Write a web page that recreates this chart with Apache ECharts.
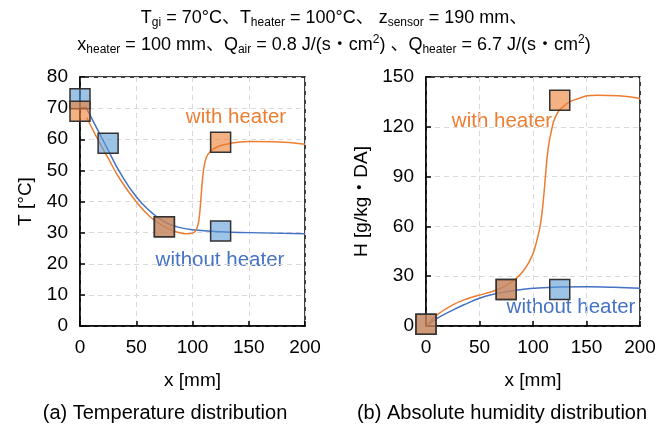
<!DOCTYPE html>
<html>
<head>
<meta charset="utf-8">
<script src="https://cdn.jsdelivr.net/npm/echarts@6/dist/echarts.min.js"></script>
<style>
  html, body { margin: 0; padding: 0; background: #fff; }
  #chart { width: 669px; height: 427px; }
</style>
</head>
<body>
<div id="chart"></div>
<script>
// measured points (squares)
const tempNoHeater = [[0, 73], [25, 58.7], [75, 31.9], [125, 30.5]];
const tempHeater = [[0, 69], [75, 31.9], [125, 59]];
const humNoHeater = [[0, 1], [75, 22], [125, 22]];
const humHeater = [[0, 1], [75, 22], [125, 136]];

// simulated curves
const tempNoHeaterCurve = [[5, 70.5], [15, 63.5], [25, 56.5], [36, 49], [50, 41.5], [62, 37], [75, 33.5],
  [89, 31.6], [105, 30.8], [125, 30.3], [150, 30.0], [200, 29.6]];
const tempHeaterCurve = [[6, 67], [15, 60.5], [25, 53.9], [36, 46.9], [50, 39.9], [62, 35.2], [75, 31.9],
  [86, 30.2], [95, 29.6], [101, 30], [104, 31.5], [106, 35], [107.5, 41], [109, 47.5], [111, 52.5], [114, 55.3],
  [120, 57.2], [130, 58.4], [150, 59.3], [172, 59.2], [200, 58.4]];
const humNoHeaterCurve = [[1, 0.5], [10, 4.5], [25, 9.6], [38, 13.5], [50, 16.7], [62, 19], [75, 20.7],
  [88, 21.9], [100, 22.7], [125, 23.5], [150, 23.7], [175, 23.3], [200, 22.7]];
const humHeaterCurve = [[1, 0.5], [10, 6.5], [25, 12.7], [40, 16.7], [55, 19.5], [65, 21.5], [75, 24.5],
  [85, 29], [93, 35], [99, 42], [103, 50], [106, 58], [108, 66], [110, 78], [112, 93], [114, 106], [117, 117],
  [121, 126], [128, 132], [140, 136.5], [160, 139], [180, 138.7], [200, 137.1]];

const tempTicks = { min: 0, max: 80, interval: 10 };
const humTicks = { min: 0, max: 150, interval: 30 };
const xTicks = { min: 0, max: 200, interval: 50 };

const BLUE = '#4472C4';
const ORANGE = '#ED7D31';
const FONT = 'Liberation Sans, Arial, Noto Sans CJK JP, sans-serif';

const chart = echarts.init(document.getElementById('chart'));

const xAxisBase = (gi) => ({
  type: 'value', gridIndex: gi,
  min: xTicks.min, max: xTicks.max, interval: xTicks.interval,
  name: 'x [mm]', nameLocation: 'middle', nameGap: 45,
  nameTextStyle: { fontSize: 19, color: '#000', fontFamily: FONT },
  axisLine: { show: true, lineStyle: { color: '#000', width: 1.5 } },
  axisTick: { show: true, inside: true, length: 5, lineStyle: { color: '#000', width: 1.5 } },
  axisLabel: { fontSize: 19, color: '#000', margin: 12, fontFamily: FONT },
  splitLine: { show: true, lineStyle: { color: '#D9D9D9', type: [5, 4], width: 1 } }
});

const yAxisBase = (gi, t, name, gap) => ({
  type: 'value', gridIndex: gi,
  min: t.min, max: t.max, interval: t.interval,
  name: name, nameLocation: 'middle', nameGap: gap, nameRotate: 90,
  nameTextStyle: { fontSize: 19, color: '#000', fontFamily: FONT },
  axisLine: { show: true, lineStyle: { color: '#000', width: 1.5 } },
  axisTick: { show: true, inside: true, length: 5, lineStyle: { color: '#000', width: 1.5 } },
  axisLabel: { fontSize: 19, color: '#000', margin: 12, fontFamily: FONT },
  splitLine: { show: true, lineStyle: { color: '#D9D9D9', type: [5, 4], width: 1 } }
});

const curve = (data, color, gi) => ({
  type: 'line', xAxisIndex: gi, yAxisIndex: gi, data: data,
  smooth: 0.5, showSymbol: false, symbol: 'none',
  lineStyle: { color: color, width: 1.5 }, z: 2, silent: true
});

const squares = (data, fill, gi) => ({
  type: 'scatter', xAxisIndex: gi, yAxisIndex: gi, data: data,
  symbol: 'rect', symbolSize: 20,
  itemStyle: { color: fill, borderColor: '#333', borderWidth: 1.5, opacity: 1 },
  z: 3, silent: true
});

const txt = (x, y, text, color, size) => ({
  type: 'text', x: x, y: y,
  style: { text: text, fill: color, fontSize: size, fontFamily: FONT, align: 'center', verticalAlign: 'middle' }
});

const richTitle = (y, text) => ({
  type: 'text', x: 334, y: y,
  style: {
    text: text, fill: '#000', fontSize: 18, lineHeight: 22, fontFamily: FONT,
    align: 'center', verticalAlign: 'middle',
    rich: {
      s: { fontSize: 12, lineHeight: 12, verticalAlign: 'bottom', fontFamily: FONT },
      p: { fontSize: 12, lineHeight: 12, verticalAlign: 'top', fontFamily: FONT }
    }
  }
});

chart.setOption({
  backgroundColor: '#fff',
  animation: false,
  grid: [
    { left: 80, top: 77, width: 225, height: 249, show: true, borderColor: '#000', borderWidth: 1.5, backgroundColor: 'transparent' },
    { left: 426, top: 77, width: 214, height: 249, show: true, borderColor: '#000', borderWidth: 1.5, backgroundColor: 'transparent' }
  ],
  xAxis: [xAxisBase(0), xAxisBase(1)],
  yAxis: [yAxisBase(0, tempTicks, 'T [°C]', 45), yAxisBase(1, humTicks, 'H [g/kg・DA]', 55)],
  series: [
    curve(tempNoHeaterCurve, BLUE, 0),
    curve(tempHeaterCurve, ORANGE, 0),
    squares(tempNoHeater, 'rgba(91,155,213,0.6)', 0),
    squares(tempHeater, 'rgba(237,125,49,0.6)', 0),
    curve(humNoHeaterCurve, BLUE, 1),
    curve(humHeaterCurve, ORANGE, 1),
    squares(humNoHeater, 'rgba(91,155,213,0.6)', 1),
    squares(humHeater, 'rgba(237,125,49,0.6)', 1)
  ],
  graphic: [
    richTitle(18, 'T{s|gi} = 70°C、T{s|heater} = 100°C、 z{s|sensor} = 190 mm、'),
    richTitle(45, 'x{s|heater} = 100 mm、Q{s|air} = 0.8 J/(s・cm{p|2}) 、Q{s|heater} = 6.7 J/(s・cm{p|2})'),
    txt(236, 117, 'with heater', ORANGE, 20.5),
    txt(220, 260, 'without heater', BLUE, 20.5),
    txt(502, 121, 'with heater', ORANGE, 20.5),
    txt(571, 307, 'without heater', BLUE, 20.5),
    txt(165, 413, '(a) Temperature distribution', '#000', 20),
    txt(502, 413, '(b) Absolute humidity distribution', '#000', 20)
  ]
});
</script>
</body>
</html>
